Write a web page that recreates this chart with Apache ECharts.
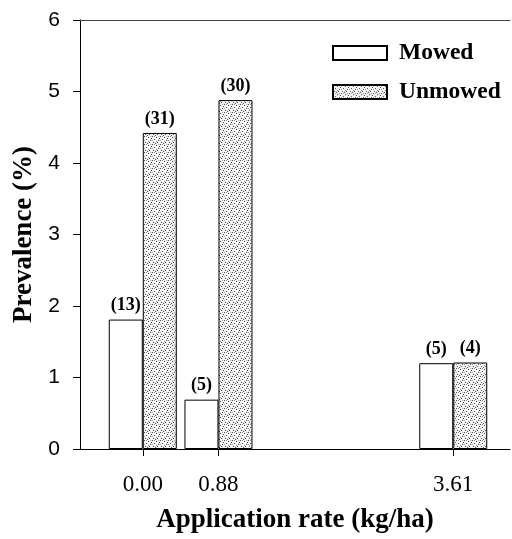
<!DOCTYPE html>
<html>
<head>
<meta charset="utf-8">
<script src="https://cdn.jsdelivr.net/npm/echarts@6/dist/echarts.min.js"></script>
<style>html,body{margin:0;padding:0;background:#fff;}#c{width:512px;height:539px;}</style>
</head>
<body>
<div id="c"></div>
<script>
var rates = [0.00, 0.88, 3.61];
var rateLabels = ['0.00', '0.88', '3.61'];
var mowed = [1.81, 0.69, 1.20];
var unmowed = [4.42, 4.88, 1.21];
var nMowed = [13, 5, 5];
var nUnmowed = [31, 30, 4];
var yTicks = [0, 1, 2, 3, 4, 5, 6];

// stipple texture
var pc = document.createElement('canvas');
pc.width = 8; pc.height = 8;
var g = pc.getContext('2d');
g.fillStyle = '#f2f2f2'; g.fillRect(0, 0, 8, 8);
g.fillStyle = '#555';
[[0,0],[4,1],[2,3],[6,4],[1,6],[5,6],[3,7],[7,2]].forEach(function(p){ g.fillRect(p[0], p[1], 1, 1); });
g.fillStyle = '#999';
[[2,0],[6,0],[0,4],[4,5]].forEach(function(p){ g.fillRect(p[0], p[1], 1, 1); });

var chart = echarts.init(document.getElementById('c'));
var serif = 'Liberation Serif';
function pairs(v){ return rates.map(function(x, i){ return [x, v[i]]; }); }
var labelBase = { show: true, position: 'top', distance: 5, fontFamily: serif, fontWeight: 'bold', fontSize: 18, color: '#000' };
chart.setOption({
  animation: false,
  grid: { left: 80, right: 2, top: 20, bottom: 88 },
  legend: {
    orient: 'vertical', left: 327, top: 36, itemWidth: 54, itemHeight: 14, itemGap: 15,
    icon: 'rect',
    textStyle: { fontFamily: serif, fontWeight: 'bold', fontSize: 23.5, color: '#000', padding: [0,0,0,7] },
    data: ['Mowed', 'Unmowed']
  },
  xAxis: [{
    type: 'value', min: -0.73, max: 4.27,
    name: 'Application rate (kg/ha)', nameLocation: 'middle', nameGap: 58,
    nameTextStyle: { fontFamily: serif, fontWeight: 'bold', fontSize: 27, color: '#000' },
    axisLine: { show: true, onZero: false, lineStyle: { color: '#000', width: 1 } },
    axisTick: { show: true, length: 7, customValues: rates, lineStyle: { color: '#000' } },
    axisLabel: { customValues: rates, margin: 24, fontFamily: serif, fontSize: 23, color: '#000',
      formatter: function(v){ var i = rates.indexOf(v); return i >= 0 ? rateLabels[i] : ''; } },
    splitLine: { show: false }
  }, {
    type: 'value', min: -0.73, max: 4.27, position: 'top',
    axisLine: { show: true, onZero: false, lineStyle: { color: '#444', width: 1 } },
    axisTick: { show: false }, axisLabel: { show: false }, splitLine: { show: false }
  }],
  yAxis: {
    type: 'value', min: 0, max: 6, interval: 1,
    name: 'Prevalence (%)', nameLocation: 'middle', nameGap: 42, nameRotate: 90,
    nameTextStyle: { fontFamily: serif, fontWeight: 'bold', fontSize: 27, color: '#000' },
    axisLine: { show: true, onZero: false, lineStyle: { color: '#000', width: 1 } },
    axisTick: { show: true, length: 7, lineStyle: { color: '#000' } },
    axisLabel: { margin: 20, fontFamily: 'Liberation Sans', fontSize: 21, color: '#000',
      formatter: function(v){ return yTicks.indexOf(v) >= 0 ? String(v) : ''; } },
    splitLine: { show: false }
  },
  series: [{
    name: 'Mowed', type: 'bar', barWidth: 34, barGap: '0%',
    data: pairs(mowed),
    itemStyle: { color: '#fff', borderColor: '#000', borderWidth: 1 },
    label: Object.assign({}, labelBase, { formatter: function(p){ return '(' + nMowed[p.dataIndex] + ')'; } })
  }, {
    name: 'Unmowed', type: 'bar', barWidth: 34, barGap: '0%',
    data: pairs(unmowed),
    itemStyle: { color: { image: pc, repeat: 'repeat' }, borderColor: '#000', borderWidth: 1 },
    label: Object.assign({}, labelBase, { formatter: function(p){ return '(' + nUnmowed[p.dataIndex] + ')'; } })
  }]
});
</script>
</body>
</html>
